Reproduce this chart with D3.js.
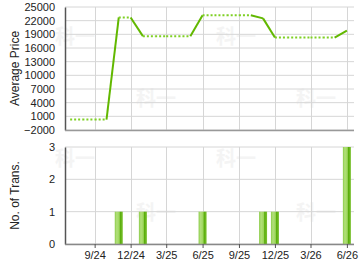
<!DOCTYPE html>
<html>
<head>
<meta charset="utf-8">
<script src="https://cdn.jsdelivr.net/npm/d3@7"></script>
<style>
  body { margin: 0; background: #fff; }
  text { font-family: "Liberation Sans", Arial, sans-serif; fill: #222; }
</style>
</head>
<body>
<div id="chart"></div>
<script>
//*********************** DATA ***********************
var months = ["2024-07","2024-08","2024-09","2024-10","2024-11","2024-12",
              "2025-01","2025-02","2025-03","2025-04","2025-05","2025-06",
              "2025-07","2025-08","2025-09","2025-10","2025-11","2025-12",
              "2026-01","2026-02","2026-03","2026-04","2026-05","2026-06"];
var avgPrice = [300, 300, 300, 300, 22700, 22700,
                18600, 18600, 18600, 18600, 18600, 23200,
                23200, 23200, 23200, 23200, 22500, 18300,
                18300, 18300, 18300, 18300, 18300, 19800];
var transMonths = ["2024-11","2025-01","2025-06","2025-11","2025-12","2026-06"];
var transCount = [1, 1, 1, 1, 1, 3];
var priceTicks = [-2000, 1000, 4000, 7000, 10000, 13000, 16000, 19000, 22000, 25000];
var transTicks = [0, 1, 2, 3];
var xTickMonths = ["2024-09","2024-12","2025-03","2025-06","2025-09","2025-12","2026-03","2026-06"];
var xTickLabels = ["9/24","12/24","3/25","6/25","9/25","12/25","3/26","6/26"];

//*********************** DECLARE VARIABLES ***********************
var width = 360,
    height = 270,
    left = 65,
    right = 354,
    top1 = 7, bottom1 = 130,
    top2 = 147, bottom2 = 244,
    parseMonth = d3.timeParse("%Y-%m");

var xScale = d3.scaleTime()
    .domain([new Date(2024, 5, 18), new Date(2026, 5, 19)])
    .range([left, right]);
var yPrice = d3.scaleLinear().domain([-2000, 25000]).range([bottom1, top1]);
var yTrans = d3.scaleLinear().domain([0, 3]).range([bottom2, top2]);

var svg = d3.select("#chart").append("svg")
    .attr("width", width)
    .attr("height", height);

var defs = svg.append("defs");
var grad = defs.append("linearGradient").attr("id", "barGrad")
    .attr("x1", "0%").attr("x2", "100%").attr("y1", "0%").attr("y2", "0%");
grad.append("stop").attr("offset", "0%").attr("stop-color", "#8ccc4a");
grad.append("stop").attr("offset", "25%").attr("stop-color", "#b2e07a");
grad.append("stop").attr("offset", "55%").attr("stop-color", "#9ed65e");
grad.append("stop").attr("offset", "70%").attr("stop-color", "#5aae0c");
grad.append("stop").attr("offset", "100%").attr("stop-color", "#7cc232");

//watermarks
var marks = [[75, 44], [236, 44], [156, 106], [316, 106], [75, 166], [236, 166], [156, 220], [316, 220]];
svg.selectAll(".wm").data(marks).enter().append("text")
    .attr("class", "wm")
    .attr("x", function(d) { return d[0]; })
    .attr("y", function(d) { return d[1]; })
    .attr("text-anchor", "middle")
    .style("font-family", "Noto Sans CJK SC")
    .style("font-size", "20px")
    .style("font-weight", "bold")
    .style("fill", "#f4f4f4")
    .text("科一");

var xTicks = xTickMonths.map(parseMonth);

function grid(g, yScale, ticks, y0, y1) {
  g.selectAll(".hg").data(ticks).enter().append("line")
    .attr("x1", left).attr("x2", right)
    .attr("y1", function(d) { return yScale(d); })
    .attr("y2", function(d) { return yScale(d); })
    .attr("stroke", "#d6d6d6").attr("stroke-width", 1);
  g.selectAll(".vg").data(xTicks).enter().append("line")
    .attr("x1", function(d) { return Math.round(xScale(d)) + 0.5; })
    .attr("x2", function(d) { return Math.round(xScale(d)) + 0.5; })
    .attr("y1", y0).attr("y2", y1)
    .attr("stroke", "#d6d6d6").attr("stroke-width", 1);
}

//*********************** TOP CHART ***********************
var topG = svg.append("g");
grid(topG, yPrice, priceTicks, top1, bottom1);

var yAxis1 = d3.axisLeft(yPrice).tickValues(priceTicks).tickFormat(d3.format("d"))
    .tickSize(0).tickPadding(10);
topG.append("g")
    .attr("transform", "translate(" + left + ",0)")
    .call(yAxis1)
    .call(function(g) {
      g.select(".domain").attr("stroke", "#555").attr("stroke-width", 1.5);
      g.selectAll("text").style("font-size", "11px").attr("fill", "#222");
    });
topG.append("line")
    .attr("x1", left).attr("x2", right)
    .attr("y1", bottom1 + 0.5).attr("y2", bottom1 + 0.5)
    .attr("stroke", "#999").attr("stroke-width", 1.5);

topG.append("text")
    .attr("transform", "translate(19," + ((top1 + bottom1) / 2) + ") rotate(-90)")
    .attr("text-anchor", "middle")
    .style("font-size", "12px")
    .text("Average Price");

//price segments: dotted where flat, solid where it changes
var pts = months.map(function(m, i) { return { date: parseMonth(m), val: avgPrice[i] }; });
var segs = d3.pairs(pts);
topG.selectAll(".seg").data(segs).enter().append("line")
    .attr("x1", function(d) { return xScale(d[0].date); })
    .attr("y1", function(d) { return yPrice(d[0].val); })
    .attr("x2", function(d) { return xScale(d[1].date); })
    .attr("y2", function(d) { return yPrice(d[1].val); })
    .attr("stroke", function(d) { return d[0].val === d[1].val ? "#7fd024" : "#62b800"; })
    .attr("stroke-width", 2)
    .attr("stroke-dasharray", function(d) { return d[0].val === d[1].val ? "2,2" : null; });

//*********************** BOTTOM CHART ***********************
var botG = svg.append("g");
grid(botG, yTrans, transTicks, top2, bottom2);

var yAxis2 = d3.axisLeft(yTrans).tickValues(transTicks).tickFormat(d3.format("d"))
    .tickSize(0).tickPadding(10);
botG.append("g")
    .attr("transform", "translate(" + left + ",0)")
    .call(yAxis2)
    .call(function(g) {
      g.select(".domain").attr("stroke", "#555").attr("stroke-width", 1.5);
      g.selectAll("text").style("font-size", "11px").attr("fill", "#222");
    });

botG.selectAll(".bar").data(transMonths).enter().append("rect")
    .attr("x", function(d) { return xScale(parseMonth(d)) - 4; })
    .attr("y", function(d, i) { return yTrans(transCount[i]); })
    .attr("width", 8)
    .attr("height", function(d, i) { return yTrans(0) - yTrans(transCount[i]); })
    .attr("fill", "url(#barGrad)");

var xAxis = d3.axisBottom(xScale).tickValues(xTicks).tickSize(4).tickPadding(3)
    .tickFormat(function(d, i) { return xTickLabels[i]; });
botG.append("g")
    .attr("transform", "translate(0," + bottom2 + ")")
    .call(xAxis)
    .call(function(g) {
      g.select(".domain").attr("d", "M" + left + ",0.5H" + right).attr("stroke", "#888").attr("stroke-width", 1.5);
      g.selectAll(".tick line").attr("stroke", "#555");
      g.selectAll("text").style("font-size", "11px").attr("fill", "#222");
    });

botG.append("text")
    .attr("transform", "translate(19," + ((top2 + bottom2) / 2) + ") rotate(-90)")
    .attr("text-anchor", "middle")
    .style("font-size", "12px")
    .text("No. of Trans.");
</script>
</body>
</html>
